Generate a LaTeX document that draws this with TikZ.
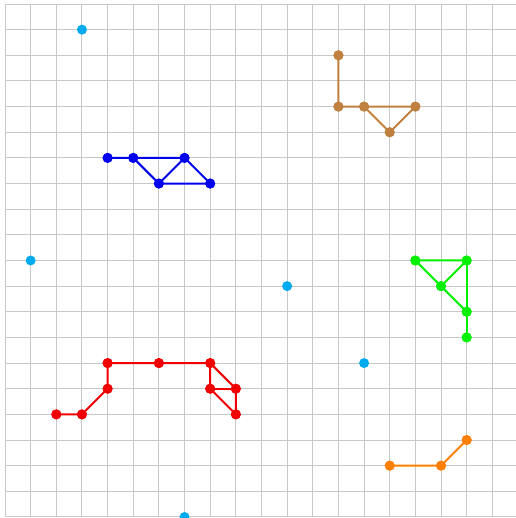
\documentclass[tikz,border=0pt]{standalone}
\definecolor{ccyan}{RGB}{0,170,238}
\definecolor{cbrown}{RGB}{192,128,64}
\definecolor{cblue}{RGB}{0,0,240}
\definecolor{cred}{RGB}{240,0,0}
\definecolor{cgreen}{RGB}{0,240,0}
\definecolor{corange}{RGB}{255,128,0}
\definecolor{cgrid}{RGB}{200,200,200}
\tikzset{
  pt/.style={circle,fill=#1,inner sep=0pt,minimum size=0.39cm},
  edge/.style={draw=#1,line width=2.2pt}
}
\begin{document}
\begin{tikzpicture}[x=1cm,y=-1cm]
\useasboundingbox (-0.195,-0.156) rectangle (19.92,20.04);
\fill[white] (-0.195,-0.156) rectangle (19.92,20.04);
\draw[cgrid,line width=1.1pt] (0,0) grid (20,20);
% cyan points
\node[pt=ccyan] (c1) at (3,1) {};
\node[pt=ccyan] (c2) at (1,10) {};
\node[pt=ccyan] (c3) at (11,11) {};
\node[pt=ccyan] (c4) at (14,14) {};
\node[pt=ccyan] (c5) at (7,20) {};
% brown
\node[pt=cbrown] (b1) at (13,2) {};
\node[pt=cbrown] (b2) at (13,4) {};
\node[pt=cbrown] (b3) at (14,4) {};
\node[pt=cbrown] (b4) at (16,4) {};
\node[pt=cbrown] (b5) at (15,5) {};
\begin{scope}[on background layer/.style={}]
\end{scope}
\draw[edge=cbrown] (b1.center) -- (b2.center) -- (b3.center) -- (b4.center) -- (b5.center) -- (b3.center);
% blue
\node[pt=cblue] (u1) at (4,6) {};
\node[pt=cblue] (u2) at (5,6) {};
\node[pt=cblue] (u3) at (7,6) {};
\node[pt=cblue] (u4) at (6,7) {};
\node[pt=cblue] (u5) at (8,7) {};
\draw[edge=cblue] (u1.center) -- (u2.center) -- (u3.center) -- (u5.center) -- (u4.center) -- (u2.center);
\draw[edge=cblue] (u4.center) -- (u3.center);
% green
\node[pt=cgreen] (g1) at (16,10) {};
\node[pt=cgreen] (g2) at (18,10) {};
\node[pt=cgreen] (g3) at (17,11) {};
\node[pt=cgreen] (g4) at (18,12) {};
\node[pt=cgreen] (g5) at (18,13) {};
\draw[edge=cgreen] (g3.center) -- (g1.center) -- (g2.center) -- (g3.center) -- (g4.center);
\draw[edge=cgreen] (g2.center) -- (g4.center) -- (g5.center);
% red
\node[pt=cred] (r1) at (2,16) {};
\node[pt=cred] (r2) at (3,16) {};
\node[pt=cred] (r3) at (4,15) {};
\node[pt=cred] (r4) at (4,14) {};
\node[pt=cred] (r5) at (6,14) {};
\node[pt=cred] (r6) at (8,14) {};
\node[pt=cred] (r7) at (8,15) {};
\node[pt=cred] (r8) at (9,15) {};
\node[pt=cred] (r9) at (9,16) {};
\draw[edge=cred] (r1.center) -- (r2.center) -- (r3.center) -- (r4.center) -- (r5.center) -- (r6.center) -- (r8.center) -- (r9.center) -- (r7.center) -- (r6.center);
\draw[edge=cred] (r7.center) -- (r8.center);
% orange
\node[pt=corange] (o1) at (15,18) {};
\node[pt=corange] (o2) at (17,18) {};
\node[pt=corange] (o3) at (18,17) {};
\draw[edge=corange] (o1.center) -- (o2.center) -- (o3.center);
% redraw dots on top
\foreach \n/\c in {b1/cbrown,b2/cbrown,b3/cbrown,b4/cbrown,b5/cbrown,u1/cblue,u2/cblue,u3/cblue,u4/cblue,u5/cblue,g1/cgreen,g2/cgreen,g3/cgreen,g4/cgreen,g5/cgreen,r1/cred,r2/cred,r3/cred,r4/cred,r5/cred,r6/cred,r7/cred,r8/cred,r9/cred,o1/corange,o2/corange,o3/corange}
  \fill[\c] (\n.center) circle (0.195);
\end{tikzpicture}
\end{document}
